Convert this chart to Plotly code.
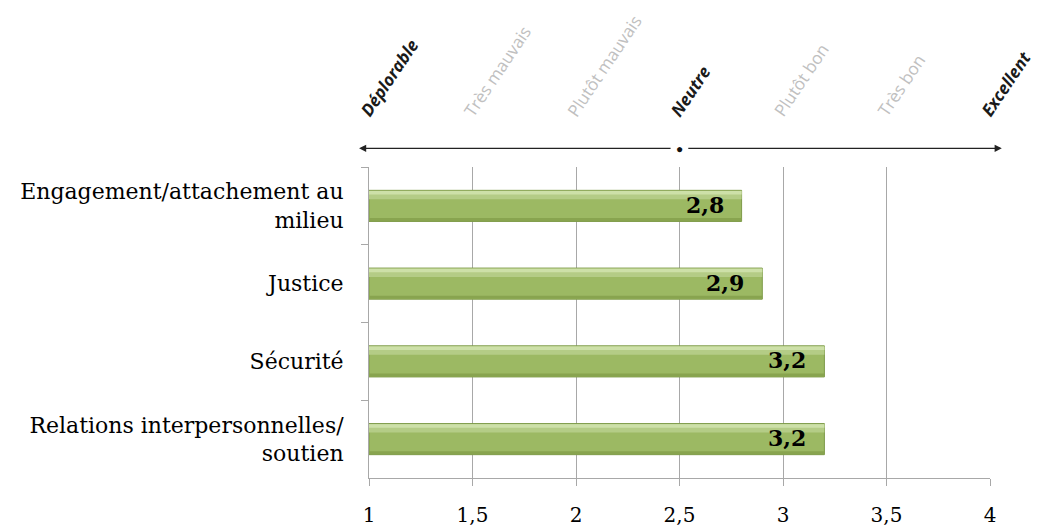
import plotly.graph_objects as go

categories = ["Engagement/attachement au<br>milieu", "Justice", "Sécurité",
              "Relations interpersonnelles/<br>soutien"]
values = [2.8, 2.9, 3.2, 3.2]
value_labels = ["2,8", "2,9", "3,2", "3,2"]
scale_ticks = [1, 1.5, 2, 2.5, 3, 3.5, 4]
scale_labels = ["Déplorable", "Très mauvais", "Plutôt mauvais", "Neutre",
                "Plutôt bon", "Très bon", "Excellent"]
scale_strong = [True, False, False, True, False, False, True]

BASE = 1
lengths = [v - BASE for v in values]

fig = go.Figure()
# main bar
fig.add_trace(go.Bar(y=categories, x=lengths, base=BASE, orientation="h",
                     width=0.4, marker=dict(color="#9cb963", line=dict(color="#7d9a48", width=1)),
                     hoverinfo="skip", showlegend=False))
# bevel highlight upper
fig.add_trace(go.Bar(y=categories, x=lengths, base=BASE, orientation="h",
                     width=0.11, offset=-0.195,
                     marker=dict(color="#b4cc86", line=dict(width=0)),
                     hoverinfo="skip", showlegend=False))
fig.add_trace(go.Bar(y=categories, x=lengths, base=BASE, orientation="h",
                     width=0.045, offset=-0.19,
                     marker=dict(color="#cde0a8", line=dict(width=0)),
                     hoverinfo="skip", showlegend=False))
# darker bottom edge
fig.add_trace(go.Bar(y=categories, x=lengths, base=BASE, orientation="h",
                     width=0.04, offset=0.155,
                     marker=dict(color="#88a44f", line=dict(width=0)),
                     hoverinfo="skip", showlegend=False))

annotations = []
for cat, v, lab in zip(categories, values, value_labels):
    annotations.append(dict(x=v, y=cat, xref="x", yref="y", text="<b>" + lab + "</b>",
                            showarrow=False, xanchor="right", yanchor="middle",
                            xshift=-16, yshift=1,
                            font=dict(family="DejaVu Serif", size=22, color="black")))

for t, lab, strong in zip(scale_ticks, scale_labels, scale_strong):
    if strong:
        txt = "<b><i>" + lab + "</i></b>"
        col = "#1a1a1a"
    else:
        txt = lab
        col = "#c0c0c0"
    annotations.append(dict(x=t, y=1.14, xref="x", yref="paper", text=txt,
                            showarrow=False, xanchor="left", yanchor="bottom",
                            textangle=-56, xshift=-17,
                            font=dict(family="Open Sans", size=17, color=col)))

# scale arrow (left half and right half) with central dot
arrow_y = 1.06
annotations.append(dict(x=-0.016, y=arrow_y, ax=313, ay=0, xref="paper", yref="paper",
                        axref="pixel", ayref="pixel", showarrow=True, arrowhead=2,
                        arrowsize=1.1, arrowwidth=1.3, arrowcolor="#222", text=""))
annotations.append(dict(x=1.019, y=arrow_y, ax=-315, ay=0, xref="paper", yref="paper",
                        axref="pixel", ayref="pixel", showarrow=True, arrowhead=2,
                        arrowsize=1.1, arrowwidth=1.3, arrowcolor="#222", text=""))
annotations.append(dict(x=2.5, y=arrow_y, xref="x", yref="paper", text="●",
                        showarrow=False, font=dict(size=12, color="#111"),
                        xanchor="center", yanchor="middle"))

fig.update_layout(
    width=1039, height=531,
    margin=dict(l=359, r=57, t=159, b=51),
    paper_bgcolor="white", plot_bgcolor="white",
    barmode="overlay",
    separators=", ",
    annotations=annotations,
    xaxis=dict(range=[1, 4], dtick=0.5, tick0=1, showgrid=True, gridcolor="#a8a8a8",
               gridwidth=1, showline=True, linecolor="#a8a8a8", ticks="outside",
               ticklen=7, tickcolor="#a8a8a8", zeroline=False, ticklabelstandoff=12,
               tickfont=dict(family="DejaVu Serif", size=20, color="black")),
    yaxis=dict(autorange="reversed", showline=True, linecolor="#a8a8a8",
               ticks="outside", ticklen=7, tickcolor="#a8a8a8", tickson="boundaries",
               showgrid=False, ticklabelstandoff=20,
               tickfont=dict(family="DejaVu Serif", size=22, color="black")),
)

fig.write_html("out.html")
